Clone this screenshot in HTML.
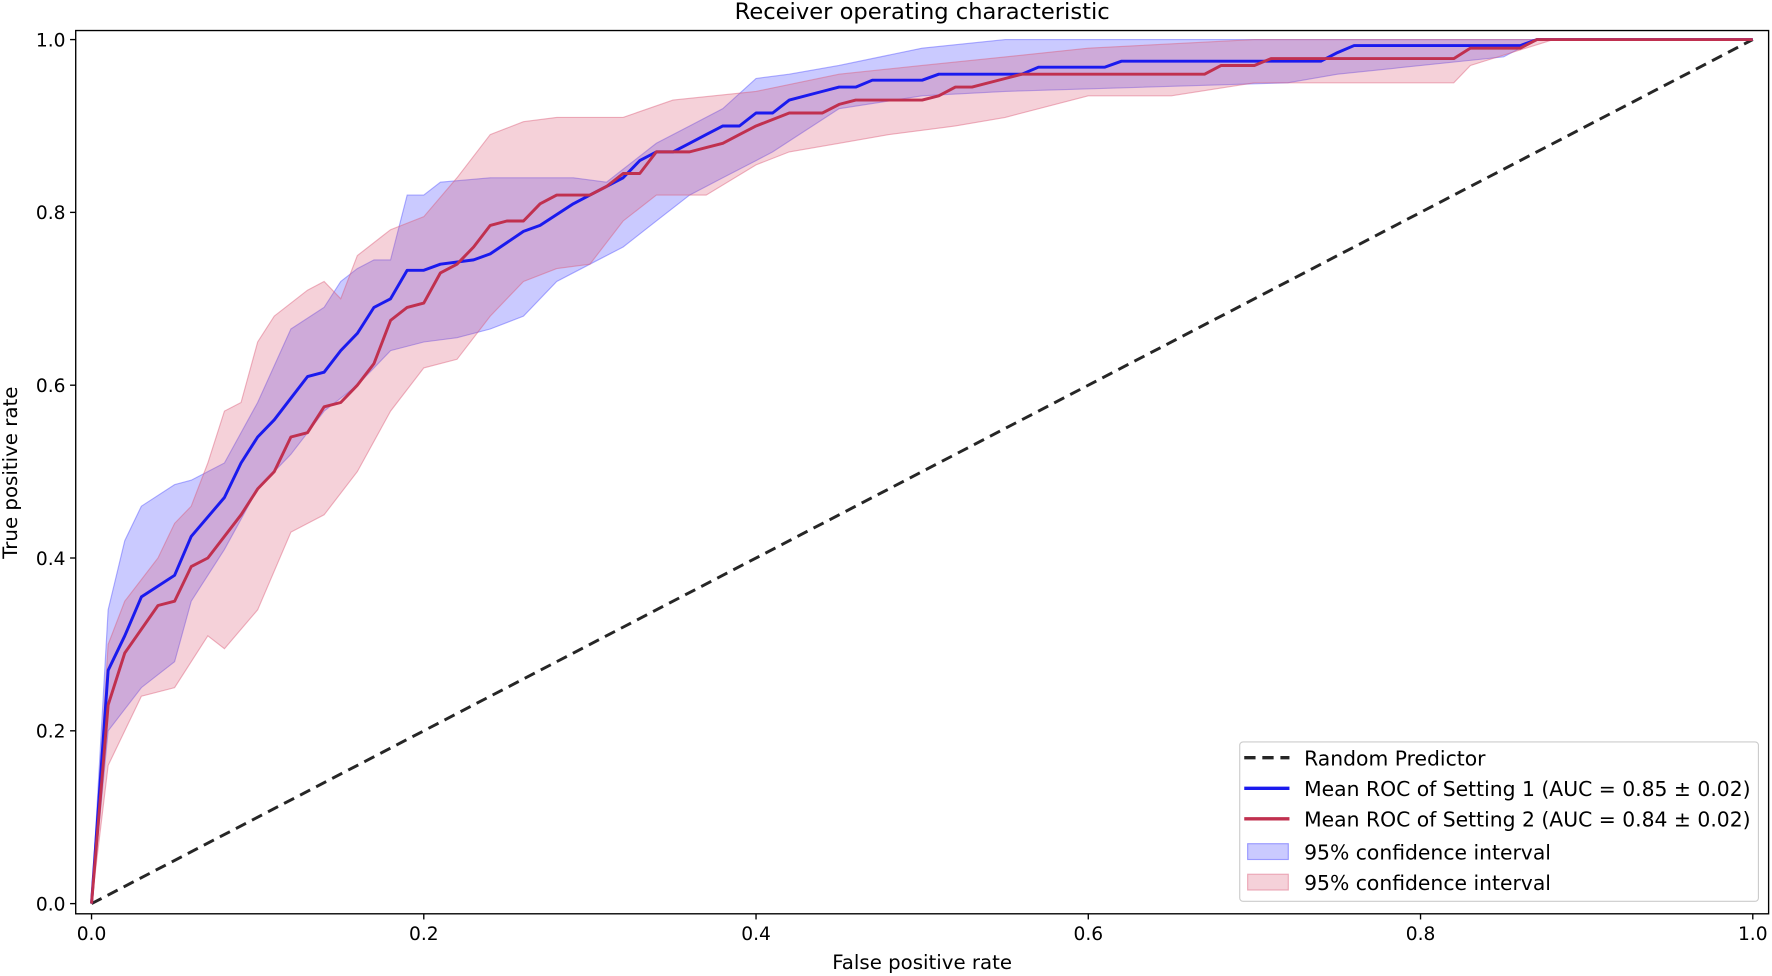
<!DOCTYPE html>
<html><head><meta charset="utf-8"><style>
html,body{margin:0;padding:0;background:#fff;width:1772px;height:976px;overflow:hidden}
svg{display:block}
text{font-family:"DejaVu Sans","Liberation Sans",sans-serif;fill:#000}
</style></head><body>
<svg id="s" width="1772" height="976" viewBox="0 0 1568 863" preserveAspectRatio="none">
<rect x="0" y="0" width="1568" height="863" fill="#fff"/>
<g id="plot"></g>
<rect x="67" y="27" width="1498" height="781" fill="none" stroke="#000" stroke-width="1.2"/>
<g id="ticks" stroke="#000" stroke-width="1.2"></g>
<text x="816" y="17" font-size="20" text-anchor="middle">Receiver operating characteristic</text>
<text x="816" y="857" font-size="17.5" text-anchor="middle">False positive rate</text>
<text transform="translate(15,418) rotate(-90)" font-size="17.5" text-anchor="middle">True positive rate</text>
<g>
<rect x="1097" y="656" width="459" height="141" rx="3" fill="#fff" fill-opacity="0.85" stroke="#ccc" stroke-width="1"/>
<line x1="1101" y1="670" x2="1141" y2="670" stroke="#262626" stroke-width="3" stroke-dasharray="10,6"/>
<text x="1154" y="677" font-size="18">Random Predictor</text>
<line x1="1101" y1="697" x2="1141" y2="697" stroke="#1a1aee" stroke-width="3"/>
<text x="1154" y="704" font-size="18">Mean ROC of Setting 1 (AUC = 0.85 ± 0.02)</text>
<line x1="1101" y1="724" x2="1141" y2="724" stroke="#c0304f" stroke-width="3"/>
<text x="1154" y="731" font-size="18">Mean ROC of Setting 2 (AUC = 0.84 ± 0.02)</text>
<rect x="1104" y="746" width="36" height="14" fill="rgba(80,80,255,0.3)" stroke="rgba(80,80,255,0.5)"/>
<text x="1154" y="760" font-size="18">95% confidence interval</text>
<rect x="1104" y="773" width="36" height="14" fill="rgba(220,90,120,0.28)" stroke="rgba(220,90,120,0.45)"/>
<text x="1154" y="787" font-size="18">95% confidence interval</text>
</g>
</svg>
<script>
var X=function(v){return 81+v*1470},Y=function(v){return 799-v*764};
function P(a){return a.map(function(p,i){return (i?'L':'M')+X(p[0]).toFixed(1)+','+Y(p[1]).toFixed(1)}).join(' ')}
var blue=[[0,0],[.01,.27],[.02,.31],[.03,.355],[.05,.38],[.06,.425],[.08,.47],[.09,.51],[.1,.54],[.11,.56],[.12,.585],[.13,.61],[.14,.615],[.15,.64],[.16,.66],[.17,.69],[.18,.7],[.19,.733],[.2,.733],[.21,.74],[.23,.745],[.24,.752],[.26,.778],[.27,.785],[.29,.81],[.3,.82],[.31,.83],[.32,.84],[.33,.86],[.34,.87],[.35,.87],[.36,.88],[.37,.89],[.38,.9],[.39,.9],[.4,.915],[.41,.915],[.42,.93],[.44,.94],[.45,.945],[.46,.945],[.47,.953],[.5,.953],[.51,.96],[.56,.96],[.57,.968],[.61,.968],[.62,.975],[.74,.975],[.75,.985],[.76,.993],[.86,.993],[.87,1],[1,1]];
var red=[[0,0],[.01,.23],[.02,.29],[.04,.345],[.05,.35],[.06,.39],[.07,.4],[.09,.45],[.1,.48],[.11,.5],[.12,.54],[.13,.545],[.14,.575],[.15,.58],[.16,.6],[.17,.625],[.18,.675],[.19,.69],[.2,.695],[.21,.73],[.22,.74],[.23,.76],[.24,.785],[.25,.79],[.26,.79],[.27,.81],[.28,.82],[.3,.82],[.31,.83],[.32,.845],[.33,.845],[.34,.87],[.36,.87],[.37,.875],[.38,.88],[.39,.89],[.4,.9],[.42,.915],[.44,.915],[.45,.925],[.46,.93],[.5,.93],[.51,.935],[.52,.945],[.53,.945],[.55,.955],[.56,.96],[.67,.96],[.68,.97],[.7,.97],[.71,.978],[.82,.978],[.83,.99],[.86,.99],[.87,1],[1,1]];
var bU=[[0,0],[.01,.34],[.02,.42],[.03,.46],[.05,.485],[.06,.49],[.08,.51],[.1,.58],[.12,.665],[.14,.69],[.15,.72],[.16,.735],[.17,.745],[.18,.745],[.19,.82],[.2,.82],[.21,.835],[.24,.84],[.28,.84],[.29,.84],[.31,.835],[.32,.85],[.34,.88],[.36,.9],[.38,.92],[.4,.955],[.42,.96],[.45,.97],[.5,.99],[.55,1],[1,1]];
var bL=[[1,1],[.87,1],[.85,.98],[.75,.96],[.72,.95],[.55,.94],[.5,.935],[.45,.92],[.43,.895],[.41,.87],[.4,.86],[.38,.84],[.36,.82],[.34,.79],[.32,.76],[.3,.74],[.28,.72],[.26,.68],[.24,.665],[.22,.655],[.2,.65],[.18,.64],[.16,.6],[.14,.57],[.12,.52],[.1,.48],[.08,.41],[.06,.35],[.05,.28],[.03,.25],[.02,.225],[.01,.2],[0,0]];
var rU=[[0,0],[.01,.3],[.02,.35],[.04,.4],[.05,.44],[.06,.46],[.07,.51],[.08,.57],[.09,.58],[.1,.65],[.11,.68],[.13,.71],[.14,.72],[.15,.7],[.16,.75],[.18,.78],[.2,.795],[.22,.84],[.24,.89],[.26,.905],[.28,.91],[.32,.91],[.35,.93],[.4,.94],[.45,.96],[.5,.97],[.55,.98],[.6,.99],[.7,1],[1,1]];
var rL=[[1,1],[.88,1],[.83,.97],[.82,.95],[.7,.95],[.65,.935],[.6,.935],[.55,.91],[.52,.9],[.48,.89],[.45,.88],[.42,.87],[.4,.855],[.37,.82],[.34,.82],[.32,.79],[.3,.74],[.28,.735],[.26,.72],[.24,.68],[.22,.63],[.2,.62],[.18,.57],[.16,.5],[.14,.45],[.12,.43],[.1,.34],[.08,.295],[.07,.31],[.05,.25],[.03,.24],[.01,.16],[0,0]];
var g='';
g+='<path d="'+P(bU.concat(bL))+'Z" fill="rgba(80,80,255,0.3)" stroke="rgba(80,80,255,0.45)" stroke-width="1"/>';
g+='<path d="'+P(rU.concat(rL))+'Z" fill="rgba(220,90,120,0.28)" stroke="rgba(220,90,120,0.45)" stroke-width="1"/>';
g+='<line x1="'+X(0)+'" y1="'+Y(0)+'" x2="'+X(1)+'" y2="'+Y(1)+'" stroke="#262626" stroke-width="2.6" stroke-dasharray="10,6"/>';
g+='<path d="'+P(blue)+'" fill="none" stroke="#1a1aee" stroke-width="2.6" stroke-linejoin="round"/>';
g+='<path d="'+P(red)+'" fill="none" stroke="#c0304f" stroke-width="2.6" stroke-linejoin="round"/>';
document.getElementById('plot').innerHTML=g;
var t='',v=['0.0','0.2','0.4','0.6','0.8','1.0'];
for(var i=0;i<6;i++){var x=X(i*.2),y=Y(i*.2);
t+='<line x1="'+x+'" y1="808" x2="'+x+'" y2="813"/><line x1="62" y1="'+y+'" x2="67" y2="'+y+'"/>';
t+='<text x="'+x+'" y="831" font-size="16.5" text-anchor="middle" stroke="none">'+v[i]+'</text>';
t+='<text x="58" y="'+(y+6)+'" font-size="16.5" text-anchor="end" stroke="none">'+v[i]+'</text>';}
document.getElementById('ticks').innerHTML=t;
</script>
</body></html>
